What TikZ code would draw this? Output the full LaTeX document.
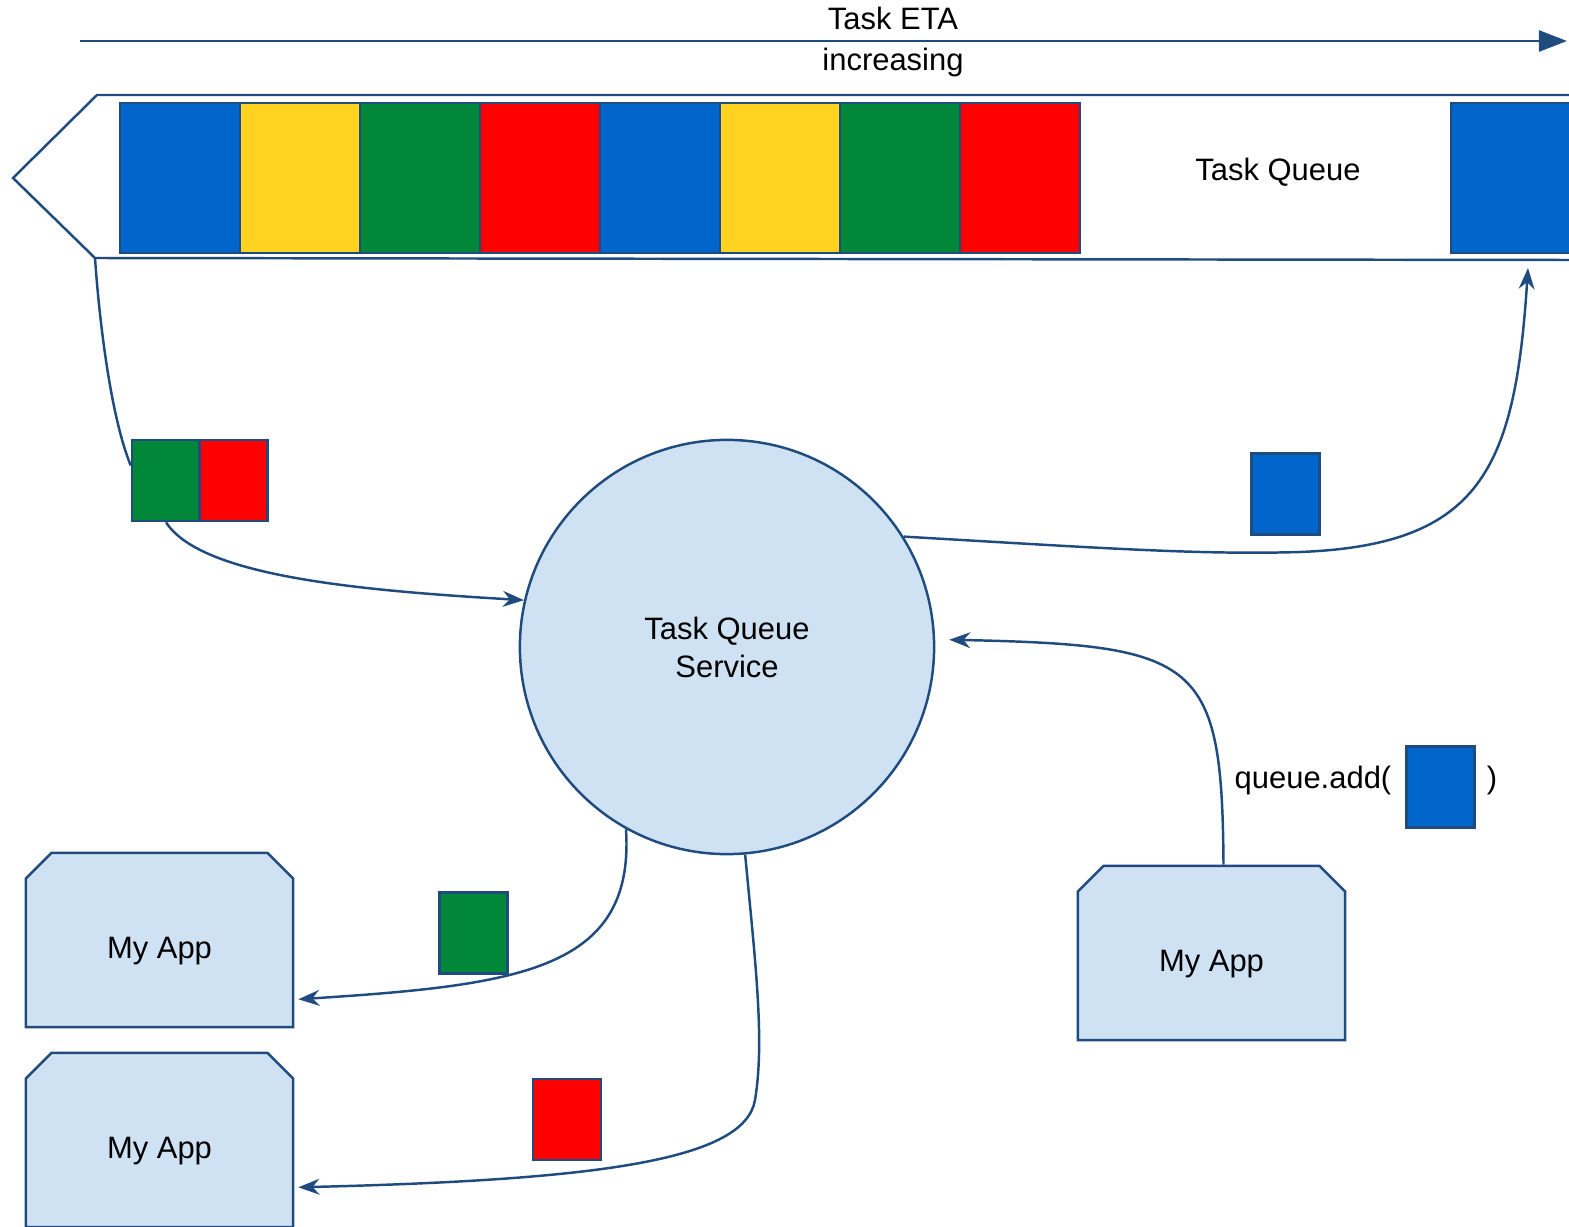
\documentclass[tikz,border=0pt]{standalone}
\usepackage{fontspec}
\setmainfont{Liberation Sans}
\usepackage{xcolor}
\usepackage{tikz}
\usetikzlibrary{arrows.meta,shapes.misc}
\definecolor{lineblue}{HTML}{1F4B7E}
\definecolor{appfill}{HTML}{CFE2F3}
\definecolor{tblue}{HTML}{0066CC}
\definecolor{tyellow}{HTML}{FFD320}
\definecolor{tgreen}{HTML}{00873A}
\definecolor{tred}{HTML}{FF0000}
\tikzset{
    Task/.style = {draw=lineblue,line width=0.7pt,fill=#1,inner sep=0pt,
        minimum width=1.2cm,minimum height=1.5cm},
    Small/.style = {Task=#1,minimum width=0.68cm,minimum height=0.81cm},
    App/.style = {chamfered rectangle,chamfered rectangle corners={north west,north east},
        chamfered rectangle xsep=0.12cm,chamfered rectangle ysep=0.135cm,
        draw=lineblue,line width=0.7pt,fill=appfill,inner sep=0pt,
        minimum width=2.67cm,minimum height=1.74cm,text height=0.44cm,text depth=0.065cm},
    Line/.style = {draw=lineblue,line width=0.7pt},
    Flow/.style = {Line,-{Stealth[length=6pt,width=4.5pt]}},
    Label/.style = {font=\fontsize{8.8}{10.8}\selectfont,align=center,inner sep=0pt}
}

\begin{document}
\begin{tikzpicture}[x=0.01cm,y=-0.01cm]
        \path[use as bounding box,clip] (0,0) rectangle (1569,1227);
        % time axis
        \coordinate (etaL) at (80,41);
        \coordinate (etaR) at (1567,41);
        \draw[Line,-{Triangle[length=8pt,width=6pt]}] (etaL) -- (etaR);
        \node[Label,font=\fontsize{8.8}{11.4}\selectfont] (eta) at (893,42) {Task ETA\\increasing};
        % the queue
        \coordinate (qtip) at (95,258);
        \coordinate (qin) at (1528,268);
        \draw[Line] (1575,95) -- (97,95) -- (13,178) -- (qtip) -- (1575,260);
        \foreach \c [count=\i from 0] in {tblue,tyellow,tgreen,tred,tblue,tyellow,tgreen,tred}
            {\node[Task=\c] (t\i) at (180+120*\i,178) {};}
        \node[Task=tblue] (tlast) at (1511,178) {};
        \node[Label] (qname) at (1278,172) {Task Queue};
        % service
        \node[circle,Line,fill=appfill,minimum size=4.14cm,Label] (svc) at (727,647) {Task Queue\\Service};
        % apps
        \node[App,Label] (appA) at (159.5,940) {My App};
        \node[App,Label] (appB) at (159.5,1140) {My App};
        \node[App,Label] (appC) at (1211.5,953) {My App};
        % tasks on the way
        \node[Small=tgreen] (g) at (166,480.5) {};
        \node[Small=tred] (r) at (233.5,480.5) {};
        \node[Small=tblue] (bnew) at (1285.5,494) {};
        \node[Small=tgreen] (gout) at (473.5,933) {};
        \node[Small=tred] (rout) at (567,1119.5) {};
        \node[Label,anchor=east] (addtxt) at (1392,780) {queue.add(};
        \node[Small=tblue] (badd) at (1440.5,787) {};
        \node[Label] (addend) at (1492,780) {)};
        % connectors
        \draw[Line] (qtip) .. controls (100,330) and (112,420) .. ([yshift=0.15cm]g.west);
        \draw[Flow] (g.south) .. controls (200,575) and (350,590) .. (svc.167);
        \draw[Flow] (svc.32) .. controls (1100,548) and (1200,555) .. (1300,552)
            .. controls (1480,545) and (1515,470) .. (qin);
        \draw[Flow] ([xshift=0.12cm]appC.north) .. controls (1222,660) and (1200,645) .. ([xshift=0.14cm]svc.2);
        \draw[Flow] (svc.241) .. controls (635,970) and (520,985) .. ([shift={(4,-29)}]appA.south east);
        \draw[Flow] (svc.275) .. controls (755,960) and (765,1040) .. (755,1100)
            .. controls (745,1160) and (600,1180) .. ([shift={(4,-41)}]appB.south east);
\end{tikzpicture}
\end{document}
